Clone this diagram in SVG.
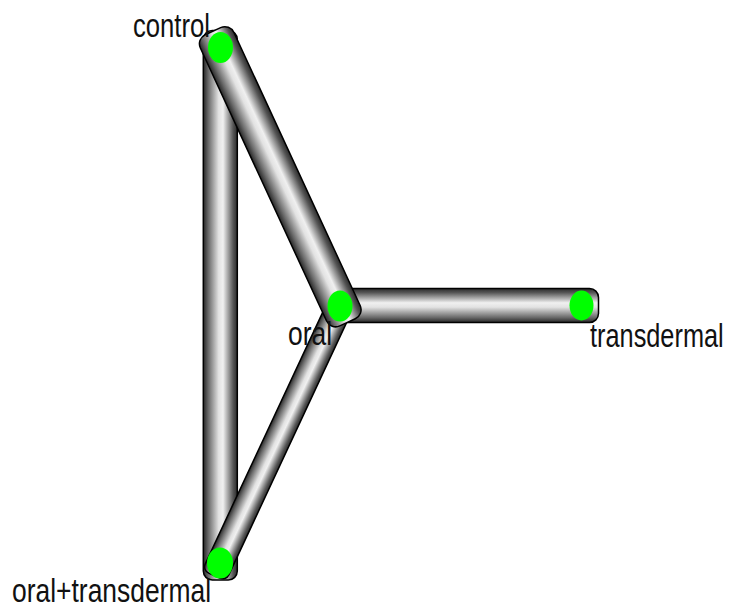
<svg xmlns="http://www.w3.org/2000/svg" width="732" height="608" viewBox="0 0 732 608">
  <defs>
    <linearGradient id="tube" x1="0" y1="0" x2="0" y2="1">
      <stop offset="0" stop-color="#2a2a2a"/>
      <stop offset="0.12" stop-color="#555"/>
      <stop offset="0.42" stop-color="#f0f0f0"/>
      <stop offset="0.55" stop-color="#e2e2e2"/>
      <stop offset="0.85" stop-color="#6a6a6a"/>
      <stop offset="1" stop-color="#262626"/>
    </linearGradient>
  </defs>
  <style>
    .tube { fill: url(#tube); stroke: #000; stroke-width: 1.5; }
    .node { fill: #00ff00; stroke: none; }
    .lbl { font-family: "Liberation Sans", Arial, sans-serif; font-size: 34px; fill: #111; }
  </style>
  <rect width="732" height="608" fill="#fff"/>
  <g id="connectors">
    <g transform="translate(340,305.5)">
      <rect class="tube" x="-17" y="-17" width="275.5" height="34" rx="9" ry="9"/>
    </g>
    <g transform="translate(220.3,47.5) rotate(90)">
      <rect class="tube" x="-17" y="-17" width="549.5" height="34" rx="9" ry="9"/>
    </g>
    <g transform="translate(340,306) rotate(115.03)">
      <rect class="tube" x="-14" y="-13" width="311.6" height="26" rx="7" ry="7"/>
    </g>
    <g transform="translate(220.5,47.5) rotate(65.19)">
      <rect class="tube" x="-18" y="-18.5" width="320.8" height="37" rx="10" ry="10"/>
    </g>
  </g>
  <g id="node-control">
    <ellipse class="node" cx="220.5" cy="47.5" rx="12.5" ry="15.5"/>
    <text class="lbl" x="133" y="37" textLength="77" lengthAdjust="spacingAndGlyphs">control</text>
  </g>
  <g id="node-oral">
    <ellipse class="node" cx="340" cy="306" rx="12.5" ry="15.5"/>
    <text class="lbl" x="288" y="345" textLength="44" lengthAdjust="spacingAndGlyphs">oral</text>
  </g>
  <g id="node-transdermal">
    <ellipse class="node" cx="581.5" cy="305.5" rx="12" ry="15"/>
    <text class="lbl" transform="translate(590,347) scale(0.745,1)">transdermal</text>
  </g>
  <g id="node-oral-transdermal">
    <ellipse class="node" cx="220" cy="563" rx="13" ry="15.5"/>
    <text class="lbl" x="12" y="602" textLength="199" lengthAdjust="spacingAndGlyphs">oral+transdermal</text>
  </g>
</svg>
